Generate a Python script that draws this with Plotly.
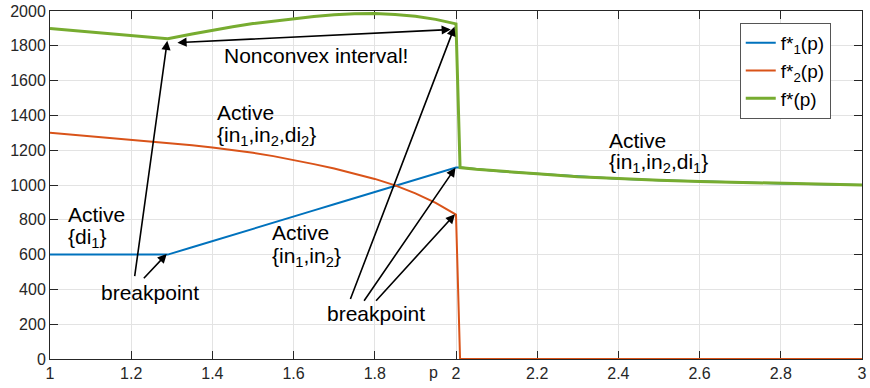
import plotly.graph_objects as go

# ---------------- data ----------------
p = [1.0, 1.05, 1.1, 1.15, 1.2, 1.25, 1.29, 1.35, 1.4, 1.45, 1.5, 1.55, 1.6, 1.65,
     1.7, 1.75, 1.8, 1.85, 1.9, 1.95, 2.0, 2.01, 2.05, 2.1, 2.2, 2.3, 2.4, 2.5,
     2.6, 2.7, 2.8, 2.9, 3.0]

f1 = [600, 600, 600, 600, 600, 600, 600, 642, 678, 713, 748, 783, 818, 854,
      889, 924, 959, 994, 1030, 1065, 1100, 1100, 1090, 1080, 1064, 1048, 1036, 1027,
      1020, 1014, 1009, 1004, 1000]

f2 = [1300, 1290, 1280, 1270, 1260, 1250, 1241, 1228, 1215, 1201, 1185, 1166, 1144, 1120,
      1095, 1067, 1035, 998, 952, 897, 830, 0, 0, 0, 0, 0, 0, 0,
      0, 0, 0, 0, 0]

fstar = [1900, 1890, 1880, 1870, 1860, 1850, 1841, 1868, 1890, 1910, 1928, 1943, 1957, 1969,
         1978, 1984, 1985, 1980, 1970, 1952, 1926, 1100, 1090, 1080, 1064, 1048, 1036, 1027,
         1020, 1014, 1009, 1004, 1000]

x_ticks = [1, 1.2, 1.4, 1.6, 1.8, 2, 2.2, 2.4, 2.6, 2.8, 3]
x_tick_labels = ["1", "1.2", "1.4", "1.6", "1.8", "2", "2.2", "2.4", "2.6", "2.8", "3"]
y_ticks = [0, 200, 400, 600, 800, 1000, 1200, 1400, 1600, 1800, 2000]

BLUE = "#0072BD"
ORANGE = "#D95319"
GREEN = "#77AC30"
AX = "#262626"
FONT = "Liberation Sans, Arial, Helvetica, sans-serif"

W, H = 870, 388
ML, MR, MT, MB = 50, 3, 8, 29
X0, X1 = 1.0, 3.0
Y0, Y1 = 0.0, 2000.0


def px2x(px):
    return X0 + (px - ML) / (W - ML - MR) * (X1 - X0)


def py2y(py):
    return Y0 + (H - MB - py) / (H - MT - MB) * (Y1 - Y0)


fig = go.Figure()
fig.add_trace(go.Scatter(x=p, y=f1, mode="lines", name="f*<sub>1</sub>(p)",
                         line=dict(color=BLUE, width=2)))
fig.add_trace(go.Scatter(x=p, y=f2, mode="lines", name="f*<sub>2</sub>(p)",
                         line=dict(color=ORANGE, width=2)))
fig.add_trace(go.Scatter(x=p, y=fstar, mode="lines", name="f*(p)",
                         line=dict(color=GREEN, width=3)))

annotations = []
TF = 21


def text(px, py, s, anchor="left"):
    annotations.append(dict(x=px2x(px), y=py2y(py), xref="x", yref="y", text=s,
                            showarrow=False, xanchor=anchor, yanchor="middle",
                            font=dict(family=FONT, size=TF, color="black")))


def arrow(hx, hy, tx, ty, side="end"):
    annotations.append(dict(x=px2x(hx), y=py2y(hy), ax=px2x(tx), ay=py2y(ty),
                            xref="x", yref="y", axref="x", ayref="y", text="",
                            showarrow=True, arrowhead=2, arrowsize=1.15, arrowwidth=1.6,
                            arrowcolor="black", arrowside=side,
                            standoff=0, startstandoff=0))


text(66, 213.5, "Active")
text(66, 237, "{di<sub>1</sub>}")
text(216, 110, "Active")
text(216, 134, "{in<sub>1</sub>,in<sub>2</sub>,di<sub>2</sub>}")
text(271, 231.7, "Active")
text(271, 256, "{in<sub>1</sub>,in<sub>2</sub>}")
text(610, 138.3, "Active")
text(610, 161, "{in<sub>1</sub>,in<sub>2</sub>,di<sub>1</sub>}")
text(318, 53, "Nonconvex interval!", anchor="center")
text(151, 292, "breakpoint", anchor="center")
text(378, 313, "breakpoint", anchor="center")

arrow(168, 38, 135, 277)
arrow(167.5, 253, 143, 279)
arrow(453.3, 26.7, 176.7, 40, side="end+start")
arrow(457, 24, 351.7, 300)
arrow(458, 166, 365, 301.7)
arrow(457.5, 213, 376.7, 301.7)

# x-axis label "p" placed next to the tick "2"
annotations.append(dict(x=px2x(436), y=(H - MB - 373) / (H - MT - MB), xref="x", yref="paper",
                        text="p", showarrow=False, xanchor="center", yanchor="middle",
                        font=dict(family=FONT, size=16, color=AX)))

fig.update_layout(
    width=W, height=H,
    margin=dict(l=ML, r=MR, t=MT, b=MB),
    paper_bgcolor="white", plot_bgcolor="white",
    font=dict(family=FONT, size=16, color=AX),
    showlegend=True,
    legend=dict(x=(744 - ML) / (W - ML - MR), y=1 - (20 - MT) / (H - MT - MB),
                xanchor="left", yanchor="top", bgcolor="white",
                bordercolor="#555555", borderwidth=1, itemwidth=30,
                font=dict(family=FONT, size=19, color="black"),
                tracegroupgap=0),
    annotations=annotations,
)

fig.update_xaxes(range=[X0, X1], tickvals=x_ticks, ticktext=x_tick_labels,
                 showgrid=True, gridcolor="#e3e3e3", gridwidth=1,
                 showline=True, linecolor=AX, linewidth=1, mirror="ticks",
                 ticks="inside", ticklen=8, tickcolor=AX, zeroline=False,
                 ticklabeloverflow="allow",
                 tickfont=dict(family=FONT, size=16, color=AX), layer="below traces")
fig.update_yaxes(range=[Y0, Y1], tickvals=y_ticks,
                 showgrid=True, gridcolor="#e3e3e3", gridwidth=1,
                 showline=True, linecolor=AX, linewidth=1, mirror="ticks",
                 ticks="inside", ticklen=8, tickcolor=AX, zeroline=False,
                 ticklabeloverflow="allow",
                 tickfont=dict(family=FONT, size=16, color=AX), layer="below traces")

fig.write_html("out.html")
